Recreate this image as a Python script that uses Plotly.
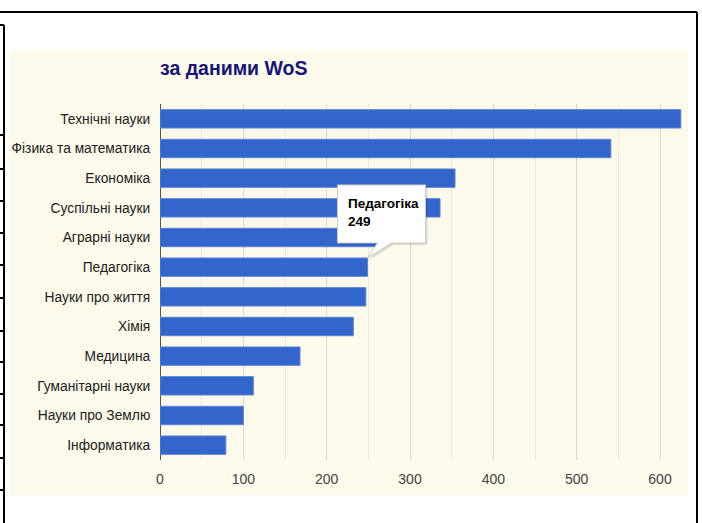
import plotly.graph_objects as go

categories = ["Технічні науки", "Фізика та математика", "Економіка", "Суспільні науки",
              "Аграрні науки", "Педагогіка", "Науки про життя", "Хімія", "Медицина",
              "Гуманітарні науки", "Науки про Землю", "Інформатика"]
values = [625, 541, 354, 336, 260, 249, 247, 232, 168, 112, 100, 79]
x_ticks = [0, 100, 200, 300, 400, 500, 600]
title_text = "за даними WoS"
tip_index = 5

W, H = 702, 523
L, R, T, B = 160, 14, 104, 63
XMAX = 633.6
FONT = "Liberation Sans, Arial, sans-serif"

def px(x):
    return (x - L) / (W - L - R)

def py(y):
    return (H - B - y) / (H - T - B)

fig = go.Figure()
fig.add_trace(go.Bar(
    x=values, y=categories, orientation="h",
    marker=dict(color="#3366cc", line=dict(color="#5a82d4", width=1)),
    hoverinfo="skip",
))

shapes = []
# cream chart background
shapes.append(dict(type="rect", xref="paper", yref="paper", layer="below",
                   x0=px(10), x1=px(688), y0=py(495), y1=py(50),
                   fillcolor="#fdf9eb", line=dict(width=0)))
# table frame lines
line_style = dict(color="black", width=2)
shapes.append(dict(type="line", xref="paper", yref="paper", x0=px(0), x1=px(697),
                   y0=py(12), y1=py(12), line=line_style))
shapes.append(dict(type="line", xref="paper", yref="paper", x0=px(697), x1=px(697),
                   y0=py(12), y1=py(523), line=line_style))
shapes.append(dict(type="line", xref="paper", yref="paper", x0=px(4), x1=px(4),
                   y0=py(25), y1=py(523), line=line_style))
for yy in [25, 135, 169, 201, 233, 265, 298, 331, 362, 394, 425, 458, 490]:
    shapes.append(dict(type="line", xref="paper", yref="paper", x0=px(0), x1=px(4),
                       y0=py(yy), y1=py(yy), line=line_style))

# tooltip callout (anchored to the bar end of the highlighted category)
slot = (H - T - B) / len(categories)
bar_h = slot * 0.62
tip_x = L + values[tip_index] / XMAX * (W - L - R)
tip_y = T + slot * (tip_index + 0.5) - bar_h / 2
bx0, bx1, by0, by1 = tip_x - 30, tip_x + 58, tip_y - 73, tip_y - 15
pl, pr = tip_x + 10, tip_x + 24

def callout(dx, dy):
    pts = [(bx0, by0), (bx1, by0), (bx1, by1), (pr, by1), (tip_x, tip_y), (pl, by1), (bx0, by1)]
    return "M " + " L ".join(f"{px(a + dx):.5f},{py(b + dy):.5f}" for a, b in pts) + " Z"

shapes.append(dict(type="path", xref="paper", yref="paper", path=callout(2, 2),
                   fillcolor="rgba(0,0,0,0.12)", line=dict(width=0)))
shapes.append(dict(type="path", xref="paper", yref="paper", path=callout(0, 0),
                   fillcolor="white", line=dict(color="#cccccc", width=1)))

annotations = [
    dict(xref="paper", yref="paper", x=px(158), y=py(68), xanchor="left", yanchor="middle",
         text=f"<b>{title_text}</b>", showarrow=False,
         font=dict(family=FONT, size=19.5, color="#16167a")),
    dict(xref="paper", yref="paper", x=px(bx0 + 8), y=py(by0 + 9), xanchor="left", yanchor="top",
         text=f"<b>{categories[tip_index]}</b><br><b>{values[tip_index]}</b>", showarrow=False,
         align="left", font=dict(family=FONT, size=13.5, color="black")),
]

fig.update_layout(
    width=W, height=H,
    margin=dict(l=L, r=R, t=T, b=B, pad=0),
    paper_bgcolor="white", plot_bgcolor="rgba(0,0,0,0)",
    showlegend=False, bargap=0.38,
    shapes=shapes, annotations=annotations,
    font=dict(family=FONT, size=14, color="#222222"),
    xaxis=dict(range=[0, XMAX], tickvals=x_ticks, showgrid=True, gridcolor="#dcd8cc",
               gridwidth=1, zeroline=True, zerolinecolor="#555555", zerolinewidth=1,
               minor=dict(dtick=50, tick0=0, showgrid=True, gridcolor="#eeeadd", gridwidth=1),
               tickfont=dict(family=FONT, size=14, color="#444444"), automargin=False,
               ticks="outside", ticklen=6, tickcolor="rgba(0,0,0,0)", fixedrange=True),
    yaxis=dict(categoryorder="array", categoryarray=categories, autorange="reversed",
               ticks="outside", ticklen=6, tickcolor="rgba(0,0,0,0)", automargin=False,
               tickfont=dict(family=FONT, size=13.8, color="#222222"), fixedrange=True),
)

post = ("document.body.style.margin='0';document.body.style.padding='0';"
        "document.body.style.overflow='hidden';"
        "document.documentElement.style.overflow='hidden';")
fig.write_html("out.html", config={"displayModeBar": False}, post_script=post)
